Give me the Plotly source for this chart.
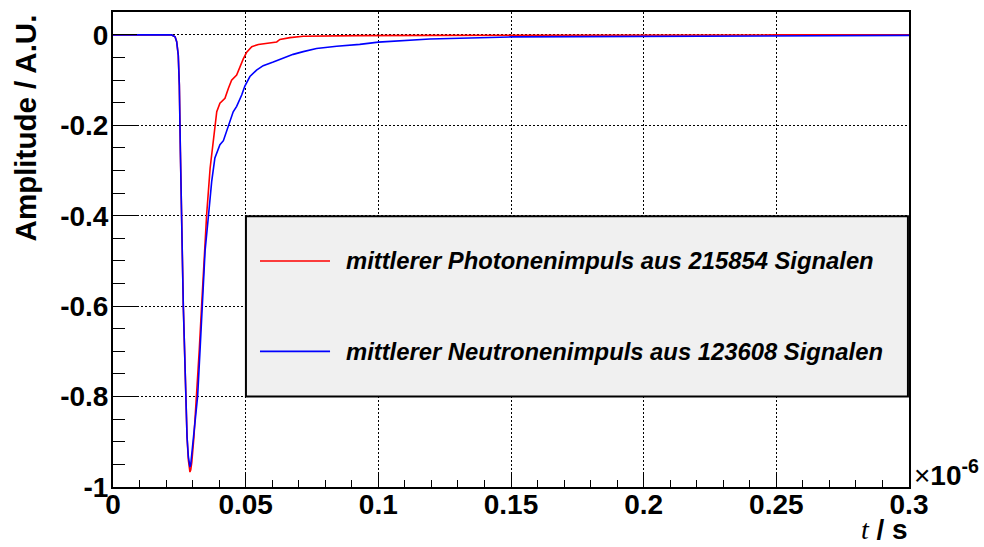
import plotly.graph_objects as go

# Time axis in units of 1e-6 s
t_photon = [0.0, 0.0215, 0.0221, 0.0234, 0.0240, 0.0246, 0.0250, 0.0254, 0.0257,
            0.0261, 0.0265, 0.0270, 0.0274, 0.0279, 0.0284, 0.0287, 0.0290, 0.0293,
            0.0297, 0.0305, 0.0315, 0.0325, 0.0334, 0.0344, 0.0353, 0.0366, 0.0378,
            0.0391, 0.0403, 0.0422, 0.0435, 0.0447, 0.0466, 0.0479, 0.0491, 0.0504,
            0.0523, 0.0548, 0.0579, 0.0617, 0.0629, 0.0667, 0.0717, 0.0805, 0.0930,
            0.1200, 0.1500, 0.2000, 0.2500, 0.3000]
a_photon = [0.0, 0.0, 0.0, -0.004, -0.015, -0.045, -0.111, -0.258, -0.405,
            -0.478, -0.599, -0.698, -0.799, -0.889, -0.940, -0.960, -0.967, -0.962,
            -0.945, -0.889, -0.799, -0.698, -0.599, -0.478, -0.397, -0.295, -0.230,
            -0.170, -0.151, -0.140, -0.118, -0.100, -0.089, -0.070, -0.053, -0.038,
            -0.026, -0.021, -0.018, -0.0155, -0.010, -0.006, -0.003, -0.0018, -0.0015,
            -0.001, -0.0005, 0.0, 0.0, 0.0]

t_neutron = [0.0, 0.0215, 0.0221, 0.0234, 0.0240, 0.0246, 0.0250, 0.0254, 0.0257,
             0.0261, 0.0265, 0.0270, 0.0274, 0.0279, 0.0284, 0.0287, 0.0290, 0.0293,
             0.0296, 0.0302, 0.0310, 0.0319, 0.0328, 0.0336, 0.0347, 0.0359, 0.0372,
             0.0384, 0.0403, 0.0416, 0.0435, 0.0453, 0.0466, 0.0485, 0.0497, 0.0516,
             0.0541, 0.0566, 0.0604, 0.0629, 0.0642, 0.0679, 0.0717, 0.0767, 0.0843,
             0.0930, 0.1000, 0.1194, 0.1500, 0.2000, 0.2500, 0.3000]
a_neutron = [0.0, 0.0, 0.0, -0.004, -0.015, -0.045, -0.111, -0.258, -0.405,
             -0.478, -0.599, -0.698, -0.799, -0.889, -0.933, -0.950, -0.956, -0.950,
             -0.933, -0.889, -0.845, -0.799, -0.698, -0.599, -0.478, -0.405, -0.324,
             -0.272, -0.243, -0.234, -0.199, -0.170, -0.158, -0.133, -0.113, -0.092,
             -0.078, -0.068, -0.060, -0.054, -0.051, -0.043, -0.037, -0.030, -0.025,
             -0.021, -0.016, -0.009, -0.0044, -0.003, -0.0015, -0.001]

x_tickvals = [0, 0.05, 0.1, 0.15, 0.2, 0.25, 0.3]
x_ticktext = ["0", "0.05", "0.1", "0.15", "0.2", "0.25", "0.3"]
y_tickvals = [0, -0.2, -0.4, -0.6, -0.8, -1.0]
y_ticktext = ["0", "-0.2", "-0.4", "-0.6", "-0.8", "-1"]

label_photon = "mittlerer Photonenimpuls aus 215854 Signalen"
label_neutron = "mittlerer Neutronenimpuls aus 123608 Signalen"

SANS = "Liberation Sans, Arial, Helvetica, sans-serif"
DOTS = "1.5px,2.5px"

fig = go.Figure()
fig.add_trace(go.Scatter(x=t_photon, y=a_photon, mode="lines",
                         line=dict(color="#ff0000", width=1.6), showlegend=False))
fig.add_trace(go.Scatter(x=t_neutron, y=a_neutron, mode="lines",
                         line=dict(color="#0000ff", width=1.6), showlegend=False))

fig.update_xaxes(
    range=[0, 0.3], tickvals=x_tickvals, ticktext=x_ticktext,
    ticks="inside", ticklen=14, tickwidth=1, tickcolor="black",
    minor=dict(dtick=0.01, ticks="inside", ticklen=7, tickwidth=1,
               tickcolor="black", showgrid=False),
    showline=True, linewidth=2, linecolor="black", mirror=True,
    showgrid=True, gridcolor="black", gridwidth=1, griddash=DOTS,
    zeroline=False, ticklabelstandoff=-9,
    tickfont=dict(family=SANS, size=28, color="black", weight="bold"),
)
fig.update_yaxes(
    range=[-1.0, 0.0507], tickvals=y_tickvals, ticktext=y_ticktext,
    ticks="inside", ticklen=24, tickwidth=1, tickcolor="black",
    minor=dict(dtick=0.05, ticks="inside", ticklen=12, tickwidth=1,
               tickcolor="black", showgrid=False),
    showline=True, linewidth=2, linecolor="black", mirror=True,
    showgrid=True, gridcolor="black", gridwidth=1, griddash=DOTS,
    zeroline=False, ticklabelstandoff=-3,
    tickfont=dict(family=SANS, size=28, color="black", weight="bold"),
)

# Legend box with sample lines and labels
shapes = [
    dict(type="rect", xref="x", yref="y", x0=0.0501, x1=0.2996, y0=-0.7996, y1=-0.4009,
         fillcolor="#f0f0f0", line=dict(color="black", width=2), layer="above"),
    dict(type="line", xref="x", yref="y", x0=0.0554, x1=0.0818, y0=-0.5, y1=-0.5,
         line=dict(color="#ff0000", width=1.6), layer="above"),
    dict(type="line", xref="x", yref="y", x0=0.0554, x1=0.0818, y0=-0.70, y1=-0.70,
         line=dict(color="#0000ff", width=1.6), layer="above"),
]
legend_font = dict(family=SANS, size=23.8, color="black", weight="bold", style="italic")
annotations = [
    dict(x=0.0872, y=-0.5, xref="x", yref="y", text=label_photon, showarrow=False,
         xanchor="left", yanchor="middle", font=legend_font),
    dict(x=0.0872, y=-0.70, xref="x", yref="y", text=label_neutron, showarrow=False,
         xanchor="left", yanchor="middle", font=legend_font),
    # y axis title, placed toward the top end of the axis
    dict(x=-0.1106, y=0.757, xref="paper", yref="paper", text="Amplitude / A.U.",
         textangle=-90, showarrow=False, xanchor="center", yanchor="middle",
         font=dict(family=SANS, size=29.5, color="black", weight="bold")),
    # x axis title
    dict(x=1.0013, y=-0.09, xref="paper", yref="paper",
         text='<span style="font-family:Liberation Serif;font-style:italic;font-weight:normal">t</span> / s',
         showarrow=False, xanchor="right", yanchor="middle",
         font=dict(family=SANS, size=28, color="black", weight="bold")),
    # exponent of the time axis
    dict(x=1.004, y=0.03, xref="paper", yref="paper",
         text='<span style="font-weight:normal">\u00d7</span>10<sup>-6</sup>',
         showarrow=False, xanchor="left", yanchor="middle",
         font=dict(family=SANS, size=28, color="black", weight="bold")),
]

fig.update_layout(
    width=984, height=547,
    margin=dict(l=113, r=75, t=10, b=60),
    plot_bgcolor="white", paper_bgcolor="white",
    shapes=shapes, annotations=annotations, showlegend=False,
)

fig.write_html("out.html")
